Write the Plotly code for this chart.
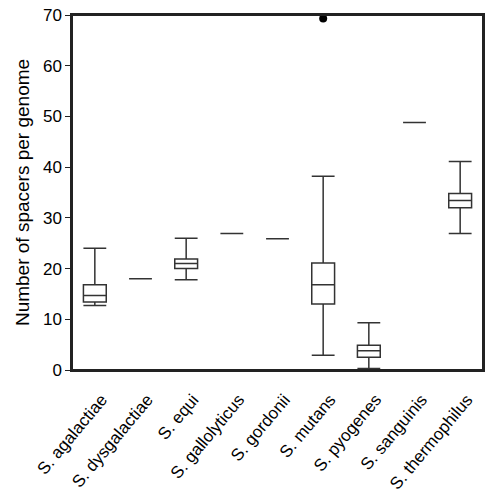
import plotly.graph_objects as go

species = ["S. agalactiae", "S. dysgalactiae", "S. equi", "S. gallolyticus",
           "S. gordonii", "S. mutans", "S. pyogenes", "S. sanguinis", "S. thermophilus"]
lower = [12.7, 18.0, 17.8, 26.9, 25.9, 2.9, 0.3, 48.8, 26.9]
q1 = [13.4, 18.0, 20.0, 26.9, 25.9, 13.0, 2.5, 48.8, 32.0]
median = [14.7, 18.0, 21.0, 26.9, 25.9, 16.8, 3.8, 48.8, 33.4]
q3 = [16.8, 18.0, 21.9, 26.9, 25.9, 21.1, 4.9, 48.8, 34.8]
upper = [24.0, 18.0, 26.0, 26.9, 25.9, 38.2, 9.3, 48.8, 41.1]
outlier_species = ["S. mutans"]
outlier_values = [69.3]
y_ticks = [0, 10, 20, 30, 40, 50, 60, 70]

FONT = "Liberation Sans, Arial, sans-serif"
positions = list(range(len(species)))
label_shift = 0.15  # category units that the rotated labels sit to the right

fig = go.Figure()
fig.add_trace(go.Box(
    x=species, q1=q1, median=median, q3=q3,
    lowerfence=lower, upperfence=upper,
    width=0.5, whiskerwidth=1,
    fillcolor="white", line=dict(color="#333333", width=1.5),
    boxpoints=False, showlegend=False,
))
fig.add_trace(go.Scatter(
    x=outlier_species, y=outlier_values, mode="markers",
    marker=dict(color="black", size=8), showlegend=False, cliponaxis=False,
))
# invisible trace carrying the label axis
fig.add_trace(go.Scatter(
    x=positions, y=[None] * len(positions), xaxis="x2", mode="markers",
    showlegend=False, hoverinfo="skip",
))

fig.update_layout(
    width=489, height=498,
    margin=dict(l=72, r=6, t=15, b=128),
    paper_bgcolor="white", plot_bgcolor="white",
    font=dict(family=FONT, color="black", size=16),
    xaxis=dict(
        type="category", categoryorder="array", categoryarray=species,
        range=[-0.5, 8.5], showgrid=False, ticks="", showticklabels=False,
        automargin=False, zeroline=False,
        showline=True, linecolor="#222222", linewidth=1.5, mirror=True,
    ),
    xaxis2=dict(
        overlaying="x", anchor="y", side="bottom", type="linear",
        range=[-0.5 - label_shift, 8.5 - label_shift],
        tickvals=positions, ticktext=species, tickangle=-50,
        tickfont=dict(size=17), ticks="outside", ticklen=12,
        tickcolor="rgba(0,0,0,0)", showgrid=False, zeroline=False,
        showline=False, automargin=False,
    ),
    yaxis=dict(
        range=[0, 70], tickvals=y_ticks, showgrid=False, zeroline=False,
        ticks="outside", ticklen=5, tickcolor="#222222", tickfont=dict(size=17),
        ticklabeloverflow="allow",
        showline=True, linecolor="#222222", linewidth=1.5, mirror=True, automargin=False,
        title=dict(text="Number of spacers per genome", font=dict(size=19), standoff=8),
    ),
    shapes=[dict(type="rect", xref="paper", yref="paper", x0=0, x1=1, y0=0, y1=1,
                 line=dict(color="#222222", width=2), layer="above")],
)

fig.write_html("out.html", config={"displayModeBar": False},
               post_script="document.body.style.margin='0';")
